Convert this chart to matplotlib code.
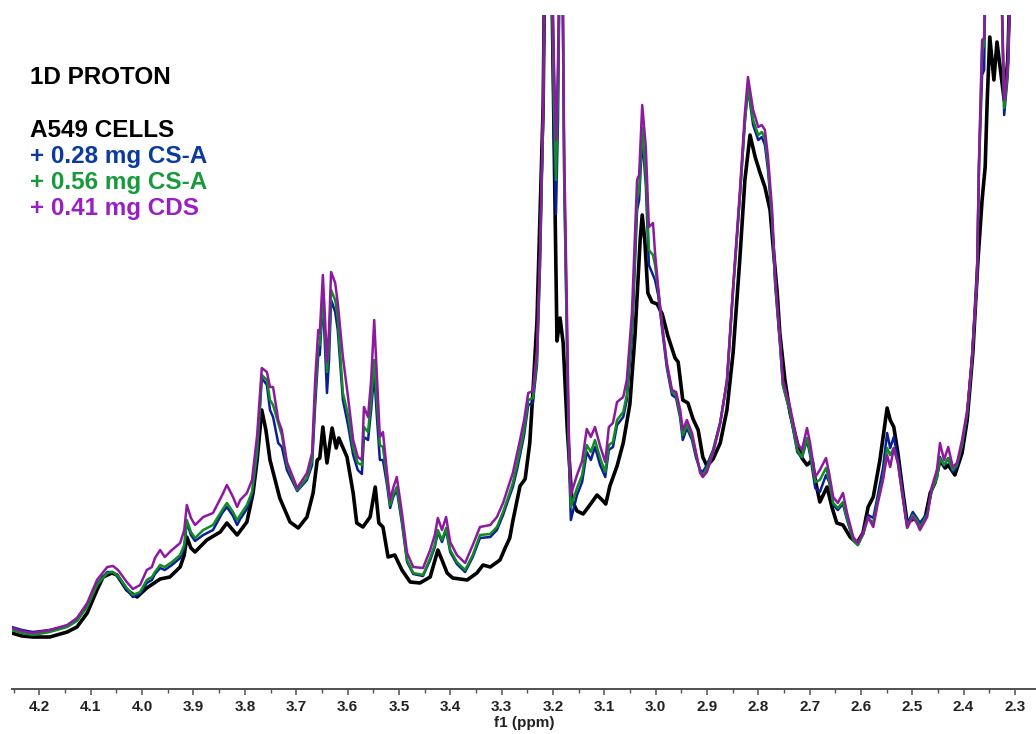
import numpy as np
import matplotlib
matplotlib.use("Agg")
import matplotlib.pyplot as plt
from matplotlib.ticker import MultipleLocator

plt.rcParams["font.family"] = ["Liberation Sans", "DejaVu Sans"]

# chemical shift grid shared by the three treated samples (ppm)
ppm_cs = [
    4.254, 4.234, 4.213, 4.180, 4.146, 4.127, 4.107, 4.088, 4.068, 4.057,
    4.047, 4.030, 4.018, 4.004, 3.991, 3.981, 3.975, 3.965, 3.956, 3.942,
    3.926, 3.918, 3.913, 3.905, 3.897, 3.881, 3.862, 3.844, 3.835, 3.823,
    3.815, 3.809, 3.796, 3.786, 3.776, 3.767, 3.757, 3.751, 3.745, 3.735,
    3.728, 3.718, 3.698, 3.679, 3.669, 3.663, 3.657, 3.654, 3.648, 3.644,
    3.640, 3.636, 3.632, 3.624, 3.619, 3.609, 3.599, 3.589, 3.580, 3.572,
    3.568, 3.560, 3.554, 3.548, 3.543, 3.537, 3.531, 3.523, 3.517, 3.511,
    3.504, 3.494, 3.484, 3.472, 3.453, 3.439, 3.430, 3.424, 3.416, 3.408,
    3.400, 3.387, 3.371, 3.356, 3.342, 3.322, 3.309, 3.297, 3.287, 3.278,
    3.270, 3.264, 3.256, 3.248, 3.239, 3.231, 3.225, 3.219, 3.215, 3.204,
    3.198, 3.194, 3.190, 3.186, 3.182, 3.178, 3.172, 3.169, 3.165, 3.153,
    3.143, 3.134, 3.126, 3.118, 3.108, 3.098, 3.091, 3.083, 3.075, 3.063,
    3.056, 3.046, 3.036, 3.032, 3.026, 3.019, 3.013, 3.005, 3.001, 2.995,
    2.987, 2.978, 2.968, 2.960, 2.952, 2.947, 2.939, 2.929, 2.921, 2.913,
    2.908, 2.900, 2.888, 2.874, 2.861, 2.849, 2.836, 2.826, 2.820, 2.810,
    2.800, 2.793, 2.787, 2.781, 2.773, 2.767, 2.758, 2.752, 2.738, 2.724,
    2.715, 2.705, 2.699, 2.689, 2.680, 2.668, 2.662, 2.654, 2.645, 2.635,
    2.627, 2.615, 2.606, 2.596, 2.586, 2.576, 2.567, 2.557, 2.549, 2.543,
    2.536, 2.528, 2.518, 2.510, 2.499, 2.491, 2.485, 2.471, 2.462, 2.452,
    2.446, 2.438, 2.430, 2.421, 2.413, 2.403, 2.393, 2.384, 2.374, 2.370,
    2.364, 2.360, 2.356, 2.329, 2.321, 2.314, 2.306, 2.259,
]

# + 0.41 mg CDS
cds_041 = [
    61, 58, 56, 59, 64, 71, 86, 109, 122, 123,
    119, 107, 100, 104, 119, 122, 131, 139, 132, 139,
    146, 159, 184, 171, 164, 172, 176, 194, 204, 192,
    182, 189, 196, 209, 254, 321, 317, 302, 302, 269,
    259, 227, 201, 216, 236, 309, 359, 356, 414, 372,
    327, 359, 417, 406, 386, 332, 292, 249, 232, 229,
    282, 272, 309, 369, 316, 252, 257, 216, 189, 201,
    212, 176, 136, 122, 121, 139, 154, 171, 159, 172,
    147, 134, 126, 144, 162, 164, 172, 186, 202, 216,
    235, 249, 269, 296, 298, 339, 439, 582, 769, 769,
    629, 549, 629, 769, 769, 539, 359, 259, 194, 214,
    228, 260, 252, 262, 243, 227, 262, 266, 287, 292,
    309, 376, 509, 514, 584, 542, 462, 466, 436, 402,
    362, 326, 299, 297, 279, 259, 269, 256, 236, 216,
    212, 217, 236, 266, 309, 402, 496, 576, 612, 579,
    562, 564, 559, 532, 479, 412, 352, 309, 282, 246,
    239, 261, 246, 212, 219, 231, 216, 192, 186, 196,
    176, 152, 146, 156, 172, 162, 186, 209, 234, 222,
    241, 226, 189, 161, 172, 166, 159, 172, 202, 219,
    246, 229, 242, 222, 226, 249, 279, 329, 412, 529,
    649, 651, 769, 769, 589, 622, 769, 769,
]

# + 0.56 mg CS-A
csa_056 = [
    59, 56, 54, 57, 62, 68, 82, 104, 116, 117,
    113, 101, 94, 97, 109, 112, 117, 124, 122, 127,
    134, 144, 169, 157, 151, 159, 164, 179, 186, 177,
    169, 174, 184, 197, 239, 314, 309, 289, 284, 266,
    254, 224, 199, 211, 229, 294, 344, 344, 392, 359,
    317, 344, 399, 389, 371, 296, 274, 241, 226, 224,
    262, 257, 289, 329, 289, 244, 242, 209, 184, 194,
    202, 169, 129, 116, 114, 131, 144, 159, 149, 161,
    139, 127, 119, 134, 154, 155, 162, 177, 192, 206,
    224, 239, 259, 289, 291, 329, 429, 574, 769, 769,
    589, 509, 599, 769, 769, 519, 339, 244, 182, 201,
    214, 244, 237, 249, 231, 217, 244, 247, 269, 277,
    294, 359, 489, 499, 561, 514, 439, 434, 424, 399,
    364, 324, 297, 294, 274, 254, 264, 252, 234, 217,
    214, 221, 237, 266, 307, 399, 491, 569, 602, 569,
    554, 557, 551, 524, 471, 406, 349, 304, 277, 239,
    232, 251, 237, 207, 209, 221, 209, 186, 181, 187,
    171, 149, 144, 154, 171, 166, 189, 211, 241, 234,
    241, 226, 191, 162, 174, 169, 162, 174, 199, 211,
    231, 224, 231, 219, 224, 244, 276, 327, 409, 524,
    639, 644, 769, 769, 581, 617, 769, 769,
]

# + 0.28 mg CS-A
csa_028 = [
    62, 59, 57, 59, 63, 69, 83, 105, 117, 117,
    112, 99, 92, 95, 106, 109, 115, 121, 119, 124,
    131, 141, 167, 154, 148, 154, 159, 176, 182, 173,
    164, 170, 180, 194, 234, 311, 304, 279, 272, 246,
    242, 219, 198, 209, 224, 284, 334, 334, 391, 344,
    296, 329, 389, 377, 359, 289, 264, 234, 219, 215,
    252, 249, 279, 316, 274, 229, 229, 204, 181, 192,
    199, 166, 127, 115, 113, 129, 142, 157, 147, 159,
    137, 125, 117, 132, 151, 152, 159, 174, 189, 202,
    219, 234, 254, 284, 286, 324, 424, 569, 769, 769,
    549, 475, 569, 769, 769, 509, 329, 234, 169, 194,
    207, 237, 229, 242, 224, 212, 239, 242, 264, 272,
    289, 351, 479, 489, 552, 504, 424, 414, 409, 394,
    359, 321, 294, 291, 271, 249, 261, 249, 231, 219,
    217, 224, 239, 267, 307, 399, 491, 567, 601, 564,
    549, 552, 544, 519, 469, 404, 347, 304, 276, 237,
    231, 249, 234, 201, 197, 214, 207, 184, 179, 185,
    169, 149, 144, 156, 174, 171, 194, 221, 256, 241,
    252, 231, 194, 164, 177, 171, 166, 176, 199, 211,
    232, 223, 231, 217, 222, 244, 276, 327, 409, 524,
    614, 619, 769, 769, 574, 614, 769, 769,
]

# A549 cells, untreated
ppm_ctrl = [
    4.254, 4.234, 4.213, 4.180, 4.146, 4.127, 4.107, 4.088, 4.076, 4.059,
    4.049, 4.030, 4.010, 3.991, 3.965, 3.946, 3.926, 3.918, 3.913, 3.905,
    3.897, 3.874, 3.848, 3.835, 3.815, 3.796, 3.784, 3.776, 3.767, 3.759,
    3.751, 3.732, 3.712, 3.696, 3.679, 3.667, 3.659, 3.654, 3.648, 3.640,
    3.630, 3.622, 3.617, 3.601, 3.589, 3.582, 3.570, 3.556, 3.546, 3.539,
    3.531, 3.521, 3.508, 3.494, 3.478, 3.459, 3.439, 3.424, 3.416, 3.406,
    3.395, 3.367, 3.348, 3.336, 3.322, 3.303, 3.293, 3.284, 3.278, 3.264,
    3.254, 3.245, 3.239, 3.231, 3.225, 3.219, 3.215, 3.204, 3.200, 3.196,
    3.192, 3.186, 3.180, 3.172, 3.163, 3.153, 3.141, 3.128, 3.114, 3.104,
    3.097, 3.089, 3.075, 3.063, 3.050, 3.040, 3.030, 3.026, 3.021, 3.015,
    3.007, 2.997, 2.987, 2.976, 2.962, 2.956, 2.947, 2.937, 2.927, 2.917,
    2.908, 2.900, 2.888, 2.874, 2.861, 2.849, 2.836, 2.826, 2.816, 2.806,
    2.797, 2.787, 2.777, 2.771, 2.763, 2.758, 2.748, 2.738, 2.724, 2.715,
    2.705, 2.695, 2.689, 2.680, 2.666, 2.656, 2.647, 2.635, 2.621, 2.608,
    2.596, 2.586, 2.576, 2.563, 2.549, 2.543, 2.536, 2.528, 2.518, 2.510,
    2.501, 2.495, 2.485, 2.475, 2.465, 2.456, 2.446, 2.436, 2.430, 2.417,
    2.403, 2.393, 2.382, 2.372, 2.364, 2.358, 2.354, 2.349, 2.341, 2.335,
    2.329, 2.321, 2.314, 2.306, 2.259,
]
ctrl = [
    56, 53, 52, 52, 57, 62, 76, 99, 112, 116,
    114, 99, 92, 101, 110, 112, 122, 134, 152, 141,
    137, 149, 157, 166, 154, 167, 196, 229, 279, 259,
    229, 191, 167, 161, 172, 196, 229, 231, 262, 226,
    261, 241, 251, 232, 196, 166, 162, 172, 202, 166,
    162, 132, 134, 119, 107, 106, 112, 139, 129, 116,
    111, 109, 116, 124, 122, 129, 141, 151, 168, 203,
    210, 246, 296, 368, 475, 582, 769, 769, 639, 489,
    348, 371, 346, 260, 189, 178, 175, 184, 194, 189,
    185, 203, 223, 246, 285, 354, 449, 474, 449, 396,
    387, 385, 375, 353, 331, 327, 289, 286, 270, 259,
    232, 223, 230, 246, 279, 336, 429, 509, 554, 532,
    517, 502, 479, 442, 396, 356, 309, 276, 246, 231,
    224, 229, 209, 187, 202, 181, 166, 164, 152, 146,
    156, 182, 192, 229, 281, 269, 262, 236, 196, 167,
    169, 171, 164, 171, 196, 206, 229, 221, 224, 214,
    236, 269, 336, 429, 489, 522, 589, 652, 609, 647,
    622, 589, 629, 769, 769,
]

tick_vals = [4.2, 4.1, 4.0, 3.9, 3.8, 3.7, 3.6, 3.5, 3.4, 3.3,
             3.2, 3.1, 3.0, 2.9, 2.8, 2.7, 2.6, 2.5, 2.4, 2.3]

C_CTRL = "#000000"
C_028 = "#0a1e96"
C_056 = "#0f8c23"
C_041 = "#8c1a9e"

fig = plt.figure(figsize=(10.36, 7.34), dpi=100)
ax = fig.add_axes([12 / 1036, 45 / 734, 1024 / 1036, 674 / 734])

ax.plot(ppm_ctrl, ctrl, color=C_CTRL, lw=2.6, solid_joinstyle="round")
ax.plot(ppm_cs, csa_028, color=C_028, lw=1.8, solid_joinstyle="round")
ax.plot(ppm_cs, csa_056, color=C_056, lw=1.8, solid_joinstyle="round")
ax.plot(ppm_cs, cds_041, color=C_041, lw=1.8, solid_joinstyle="round")

ax.set_xlim(4.2535, 2.259)
ax.set_ylim(0, 674)

for side in ("left", "right", "top"):
    ax.spines[side].set_visible(False)
ax.spines["bottom"].set_color("#505050")
ax.spines["bottom"].set_linewidth(1.4)
ax.set_yticks([])
ax.set_xticks(tick_vals)
ax.set_xticklabels([f"{v:.1f}" for v in tick_vals], fontweight="bold",
                   fontsize=11, color="#222222")
ax.xaxis.set_minor_locator(MultipleLocator(0.05))
ax.tick_params(axis="x", which="major", direction="out", length=4,
               width=1.1, color="#505050", pad=4)
ax.tick_params(axis="x", which="minor", direction="out", length=3,
               width=1.0, color="#505050")
ax.set_xlabel("f1 (ppm)", fontweight="bold", fontsize=11, color="#222222",
              labelpad=1)

# sample legend as coloured text block
x0 = 30 / 1036
lines = [
    ("1D PROTON", "#000000", 84),
    ("A549 CELLS", "#000000", 137),
    ("+ 0.28 mg CS-A", "#0b3a9e", 163),
    ("+ 0.56 mg CS-A", "#169a3a", 189),
    ("+ 0.41 mg CDS", "#9a1fc2", 215),
]
for txt, col, ybase in lines:
    fig.text(x0, 1 - ybase / 734, txt, color=col, fontsize=17.5,
             fontweight="bold", ha="left", va="baseline")

fig.savefig("out.png", dpi=100, facecolor="white")
